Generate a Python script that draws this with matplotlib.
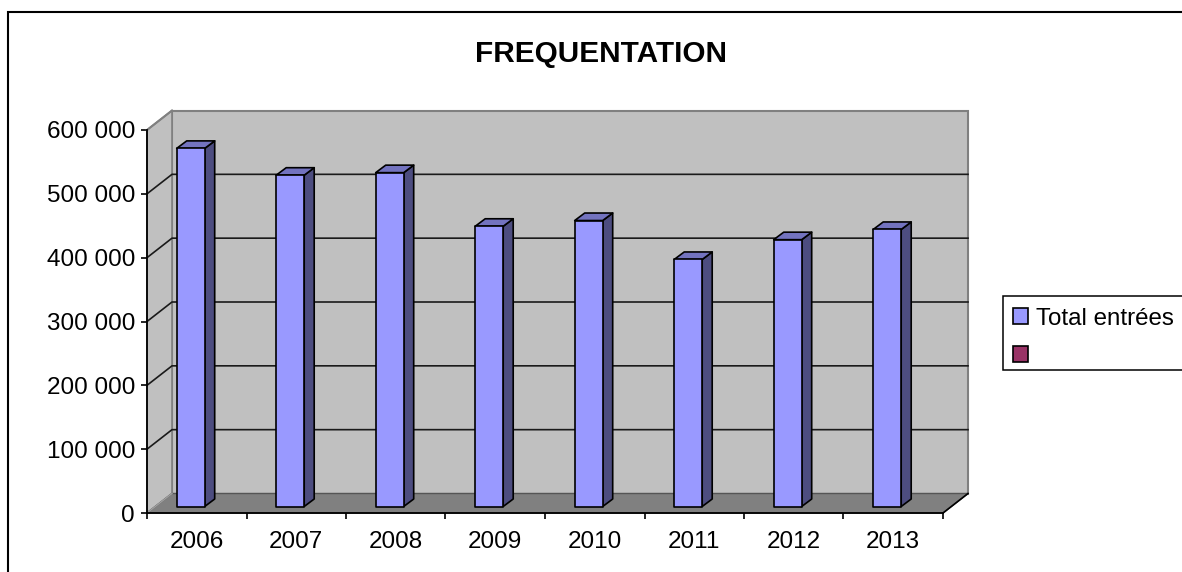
import matplotlib
matplotlib.use('Agg')
import matplotlib.pyplot as plt
from matplotlib.patches import Polygon, Patch, Rectangle

plt.rcParams['font.family'] = ['Liberation Sans', 'DejaVu Sans']

# Donnees
annees = ['2006', '2007', '2008', '2009', '2010', '2011', '2012', '2013']
entrees = [561000, 519000, 523000, 439000, 448000, 387000, 418000, 434000]
graduations = [0, 100000, 200000, 300000, 400000, 500000, 600000]

W, H = 1182, 572
fig = plt.figure(figsize=(W / 100, H / 100), dpi=100, facecolor='white')

# cadre du graphique (coupe a droite et en bas)
fig.add_artist(Rectangle((7.5 / W, -0.1), 1.2, 1 - 11.5 / H + 0.1, transform=fig.transFigure,
                         fill=False, edgecolor='black', linewidth=1.5))

ax = fig.add_axes([147 / W, 1 - 513 / H, 796 / W, 383 / H])
ax.set_xlim(0, len(annees))
ax.set_ylim(0, 600000)
ax.patch.set_visible(False)

# conversions pixels -> donnees pour la fausse 3D
px_x = len(annees) / 796
px_y = 600000 / 383
dx, dy = 25 * px_x, 19.5 * px_y


def poly(points, **kw):
    ax.add_patch(Polygon(points, closed=True, clip_on=False, **kw))


top = graduations[-1]
right = len(annees)
# murs et sol
poly([(dx, dy), (dx, top + dy), (right + dx, top + dy), (right + dx, dy)],
     facecolor='#C0C0C0', edgecolor='#808080', linewidth=1.5, zorder=1)
poly([(0, 0), (0, top), (dx, top + dy), (dx, dy)],
     facecolor='#C0C0C0', edgecolor='#808080', linewidth=1.2, zorder=1)
poly([(0, 0), (dx, dy), (right + dx, dy), (right, 0)],
     facecolor='#808080', edgecolor='#555555', linewidth=1, zorder=1)
ax.plot([0, dx], [0, dy], color='#A0A0A0', lw=1, zorder=2, clip_on=False)
ax.plot([right, right + dx], [0, dy], color='black', lw=1.2, zorder=2, clip_on=False)
ax.plot([0, dx], [top, top + dy], color='#808080', lw=1.5, zorder=2, clip_on=False)

# quadrillage
for g in graduations[1:-1]:
    ax.plot([0, dx, right + dx], [g, g + dy, g + dy], color='#1A1A1A', lw=1.2,
            zorder=2, clip_on=False)

# barres
larg = 28 * px_x
prof_x, prof_y = 10 * px_x, 7.5 * px_y
base = 6.5 * px_y
for i, v in enumerate(entrees):
    x0 = i + 29.7 * px_x
    x1 = x0 + larg
    y1 = base + v
    z = 3 + i
    poly([(x1, base), (x1, y1), (x1 + prof_x, y1 + prof_y), (x1 + prof_x, base + prof_y)],
         facecolor='#4D4D80', edgecolor='black', linewidth=1.2, joinstyle='round', zorder=z)
    poly([(x0, y1), (x1, y1), (x1 + prof_x, y1 + prof_y), (x0 + prof_x, y1 + prof_y)],
         facecolor='#7373BF', edgecolor='black', linewidth=1.2, joinstyle='round', zorder=z)
    poly([(x0, base), (x0, y1), (x1, y1), (x1, base)],
         facecolor='#9999FF', edgecolor='black', linewidth=1.2, joinstyle='round', zorder=z)

# axes
for s in ['top', 'right']:
    ax.spines[s].set_visible(False)
for s in ['left', 'bottom']:
    ax.spines[s].set_linewidth(1.3)
    ax.spines[s].set_zorder(20)

ax.set_yticks(graduations)
ax.set_yticklabels([f'{g:,}'.replace(',', ' ') for g in graduations], fontsize=17.5, color='black')
ax.set_xticks(range(len(annees) + 1))
ax.set_xticklabels([])
ax.set_xticks([i + 0.5 for i in range(len(annees))], annees, minor=True, fontsize=17.5)
ax.tick_params(axis='x', which='major', length=4.5, width=1.2)
ax.tick_params(axis='x', which='minor', length=0, pad=13)
ax.tick_params(axis='y', length=4.5, width=1.2, pad=4.2)

fig.text(601 / W, 1 - 54.5 / H, 'FREQUENTATION', ha='center', va='center',
         fontsize=21.4, fontweight='bold')

# cadre de legende trace a part, il sort de l'image a droite
fig.add_artist(Rectangle((1003 / W, 1 - 370 / H), 200 / W, 74 / H, transform=fig.transFigure,
                         facecolor='white', edgecolor='black', linewidth=1.1))
handles = [Patch(facecolor='#9999FF', edgecolor='black', linewidth=1.2, label='Total entrées'),
           Patch(facecolor='#993366', edgecolor='black', linewidth=1.2, label=' ')]
leg = fig.legend(handles=handles, loc='upper left', bbox_to_anchor=(1003 / W, 1 - 298 / H),
                 frameon=False, fontsize=17.4,
                 handlelength=0.62, handleheight=0.62, handletextpad=0.33, borderpad=0.4,
                 labelspacing=0.66, borderaxespad=0)

fig.savefig('out.png', dpi=100)
